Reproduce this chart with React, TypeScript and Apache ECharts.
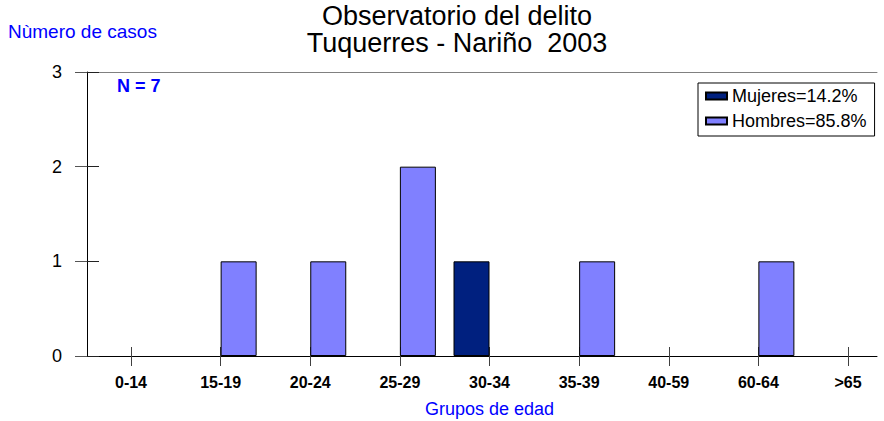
import React, { useEffect, useRef } from "react";
import * as echarts from "echarts";

const categories = ["0-14", "15-19", "20-24", "25-29", "30-34", "35-39", "40-59", "60-64", ">65"];
const mujeres = [0, 0, 0, 0, 1, 0, 0, 0, 0];
const hombres = [0, 1, 1, 2, 0, 1, 0, 1, 0];
const seriesNames = ["Mujeres=14.2%", "Hombres=85.8%"];
const titleLines = ["Observatorio del delito", "Tuquerres - Nariño  2003"];
const yAxisTitle = "Nùmero de casos";
const xAxisTitle = "Grupos de edad";
const nLabel = "N = 7";
const yMin = 0;
const yMax = 3;
const yStep = 1;

const FONT = "'Liberation Sans', Arial, sans-serif";

export default function App() {
  const ref = useRef<HTMLDivElement>(null);
  useEffect(() => {
    if (!ref.current) return;
    const chart = echarts.init(ref.current, null, { renderer: "svg" });
    const toNull = (arr: number[]) => arr.map((v) => (v === 0 ? null : v));
    chart.setOption({
      animation: false,
      backgroundColor: "#ffffff",
      textStyle: { fontFamily: FONT },
      title: {
        text: titleLines.join("\n"),
        left: 457,
        textAlign: "center",
        top: 2,
        padding: 0,
        textStyle: { fontFamily: FONT, fontSize: 27, fontWeight: "normal", color: "#000", lineHeight: 27.5 },
      },
      legend: {
        orient: "vertical",
        left: 698,
        top: 83,
        data: seriesNames,
        borderColor: "#000",
        borderWidth: 1,
        padding: [4, 8, 6, 7],
        itemWidth: 21,
        itemHeight: 7,
        itemGap: 7,
        icon: "rect",
        textStyle: { fontFamily: FONT, fontSize: 18, color: "#000", width: 134 },
      },
      grid: [
        { left: 131, right: 36, top: 72, bottom: 65, containLabel: false },
        { left: 87, right: 7, top: 72, bottom: 65, containLabel: false },
      ],
      xAxis: [
        {
          gridIndex: 0,
          type: "category",
          data: categories,
          position: "bottom",
          boundaryGap: false,
          axisLine: { show: false },
          axisTick: { show: true, length: 10, lineStyle: { color: "#404040" } },
          axisLabel: { fontFamily: FONT, fontSize: 16, fontWeight: "bold", color: "#000", margin: 18 },
          splitLine: { show: false },
        },
        {
          gridIndex: 0,
          type: "category",
          data: categories,
          position: "bottom",
          boundaryGap: false,
          axisLine: { show: false },
          axisTick: { show: true, inside: true, length: 9, lineStyle: { color: "#404040" } },
          axisLabel: { show: false },
          splitLine: { show: false },
        },
        {
          gridIndex: 1,
          type: "value",
          min: 0,
          max: 1,
          position: "bottom",
          axisLine: { show: true, onZero: false, lineStyle: { color: "#000", width: 1 } },
          axisTick: { show: false },
          axisLabel: { show: false },
          splitLine: { show: false },
        },
        {
          gridIndex: 1,
          type: "value",
          min: 0,
          max: 1,
          position: "top",
          axisLine: { show: true, onZero: false, lineStyle: { color: "#808080", width: 1 } },
          axisTick: { show: false },
          axisLabel: { show: false },
          splitLine: { show: false },
        },
      ],
      yAxis: [
        {
          gridIndex: 0,
          type: "value",
          min: yMin,
          max: yMax,
          interval: yStep,
          show: false,
        },
        {
          gridIndex: 1,
          type: "value",
          min: yMin,
          max: yMax,
          interval: yStep,
          position: "left",
          axisLine: { show: true, onZero: false, lineStyle: { color: "#000", width: 1 } },
          axisTick: { show: true, length: 12, lineStyle: { color: "#555" } },
          axisLabel: { fontFamily: FONT, fontSize: 18, color: "#000", margin: 25 },
          splitLine: { show: false },
        },
        {
          gridIndex: 1,
          type: "value",
          min: yMin,
          max: yMax,
          interval: yStep,
          position: "left",
          axisLine: { show: false },
          axisTick: { show: true, inside: true, length: 12, lineStyle: { color: "#222" } },
          axisLabel: { show: false },
          splitLine: { show: false },
        },
      ],
      graphic: [
        {
          type: "text",
          left: 8,
          top: 22,
          style: { text: yAxisTitle, fontFamily: FONT, fontSize: 19, fill: "#0000ff" },
        },
        {
          type: "text",
          left: 117,
          top: 77,
          style: { text: nLabel, fontFamily: FONT, fontSize: 18, fontWeight: "bold", fill: "#0000ff" },
        },
        {
          type: "text",
          left: 425,
          top: 400,
          style: { text: xAxisTitle, fontFamily: FONT, fontSize: 18, fill: "#0000ff" },
        },
      ],
      series: [
        {
          name: seriesNames[0],
          type: "bar",
          xAxisIndex: 0,
          yAxisIndex: 0,
          data: toNull(mujeres),
          barWidth: 36,
          barGap: "0%",
          itemStyle: { color: "#00207f", borderColor: "#000", borderWidth: 1 },
        },
        {
          name: seriesNames[1],
          type: "bar",
          xAxisIndex: 0,
          yAxisIndex: 0,
          data: toNull(hombres),
          barWidth: 36,
          barGap: "0%",
          itemStyle: { color: "#8080ff", borderColor: "#000", borderWidth: 1 },
        },
      ],
    });
    return () => chart.dispose();
  }, []);
  return <div ref={ref} style={{ position: "absolute", left: 0, top: 0, width: 884, height: 421 }} />;
}
